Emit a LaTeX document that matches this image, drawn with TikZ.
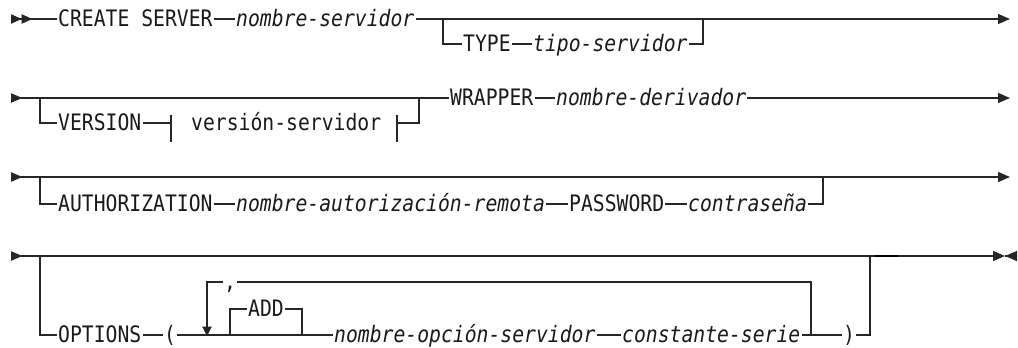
\documentclass[tikz,border=0pt]{standalone}
\usepackage{fontspec}
\setmonofont{DejaVu Sans Mono}[FakeStretch=0.87]
\usetikzlibrary{arrows.meta}

\begin{document}
\begin{tikzpicture}[
    x=0.75pt, y=-0.75pt,
    line width=0.85pt, draw=black!85,
    kw/.style={inner xsep=0.5pt, inner ysep=0pt, anchor=west, text=black!90,
      text height=12.5pt, text depth=2pt, font=\ttfamily\fontsize{17}{20}\selectfont},
    var/.style={kw, font=\ttfamily\itshape\fontsize{17}{20}\selectfont},
    starttip/.style={{Triangle[reversed, length=8.5pt, width=7pt]}-},
    startdbl/.style={{Triangle[reversed, length=8pt, width=7pt]Triangle[reversed, length=8pt, width=7pt]}-},
    endtip/.style={-{Triangle[length=9pt, width=7.5pt]}},
    thrutip/.style={{Triangle[reversed, length=8.5pt, width=7pt]}-{Triangle[length=9pt, width=7.5pt]}},
    backtip/.style={-{Triangle[reversed, length=9pt, width=7.5pt]}},
    downtip/.style={-{Triangle[length=7pt, width=7pt]}},
  ]
  \useasboundingbox (0,0) rectangle (1018,347);

  % Row 1: CREATE SERVER ... TYPE
  \coordinate (s1) at (11,19);
  \coordinate (a1) at (443,19);
  \coordinate (b1) at (703,19);
  \coordinate (e1) at (1010,19);
  \node[kw]  (create) at (57,19)  {CREATE SERVER};
  \node[var] (nsrv)   at (235,19) {nombre-servidor};
  \node[kw]  (type)   at (462,44) {TYPE};
  \node[var] (tsrv)   at (532,44) {tipo-servidor};

  \draw[startdbl] (s1) -- (create.west);
  \draw (create.east) -- (nsrv.west);
  \draw[endtip] (nsrv.east) -- (e1);
  \draw (a1) |- (type.west);
  \draw (type.east) -- (tsrv.west);
  \draw (tsrv.east) -| (b1);

  % Row 2: VERSION fragment, WRAPPER
  \coordinate (s2) at (11,98);
  \coordinate (a2) at (40,98);
  \coordinate (b2) at (419,98);
  \coordinate (e2) at (1010,98);
  \coordinate (f1) at (171,123);
  \coordinate (f1t) at (171,115);
  \coordinate (f1b) at (171,142);
  \coordinate (f2) at (397,123);
  \coordinate (f2t) at (397,115);
  \coordinate (f2b) at (397,142);
  \node[kw]  (version) at (57,123)  {VERSION};
  \node[kw]  (vsrv)    at (190,123) {versión-servidor};
  \node[kw]  (wrapper) at (449,98)  {WRAPPER};
  \node[var] (nder)    at (555,98)  {nombre-derivador};

  \draw[starttip] (s2) -- (wrapper.west);
  \draw (a2) |- (version.west);
  \draw (version.east) -- (f1);
  \draw (f1t) -- (f1b);
  \draw (f2t) -- (f2b);
  \draw (f2) -| (b2);
  \draw (wrapper.east) -- (nder.west);
  \draw[endtip] (nder.east) -- (e2);

  % Row 3: AUTHORIZATION ... PASSWORD
  \coordinate (s3) at (11,177);
  \coordinate (a3) at (40,177);
  \coordinate (b3) at (823,177);
  \coordinate (e3) at (1010,177);
  \node[kw]  (auth)   at (57,204)  {AUTHORIZATION};
  \node[var] (nauth)  at (235,204) {nombre-autorización-remota};
  \node[kw]  (pass)   at (568,204) {PASSWORD};
  \node[var] (contra) at (687,204) {contraseña};

  \draw[thrutip] (s3) -- (e3);
  \draw (a3) |- (auth.west);
  \draw (auth.east) -- (nauth.west);
  \draw (nauth.east) -- (pass.west);
  \draw (pass.east) -- (contra.west);
  \draw (contra.east) -| (b3);

  % Row 4: OPTIONS ( ADD ... )
  \coordinate (s4) at (11,256);
  \coordinate (a4) at (40,256);
  \coordinate (b4) at (870,256);
  \coordinate (t1) at (875,256);
  \coordinate (t2) at (898,256);
  \coordinate (e4) at (1005,256);
  \coordinate (e4b) at (1017,256);
  \coordinate (l1) at (207,336);
  \coordinate (r1) at (811,335);
  \coordinate (c1) at (230,335);
  \coordinate (c2) at (302,335);
  \node[kw]  (options) at (57,335)  {OPTIONS};
  \node[kw]  (lpar)    at (163,335) {(};
  \node[kw]  (comma)   at (223,282) {,};
  \node[kw]  (add)     at (247,309) {ADD};
  \node[var] (nopc)    at (333,335) {nombre-opción-servidor};
  \node[var] (cser)    at (621,335) {constante-serie};
  \node[kw]  (rpar)    at (842,335) {)};

  \draw[thrutip] (s4) -- (e4);
  \draw[backtip] (e4) -- (e4b);
  \draw[line width=2pt, black] (t1) -- (t2);
  \draw (a4) |- (options.west);
  \draw (options.east) -- (lpar.west);
  \draw (lpar.east) -- (nopc.west);
  \draw (nopc.east) -- (cser.west);
  \draw (cser.east) -- (rpar.west);
  \draw (rpar.east) -| (b4);
  \draw (r1) |- (comma.east);
  \draw[downtip] (comma.west) -| (l1);
  \draw (c1) |- (add.west);
  \draw (add.east) -| (c2);

\end{tikzpicture}
\end{document}
